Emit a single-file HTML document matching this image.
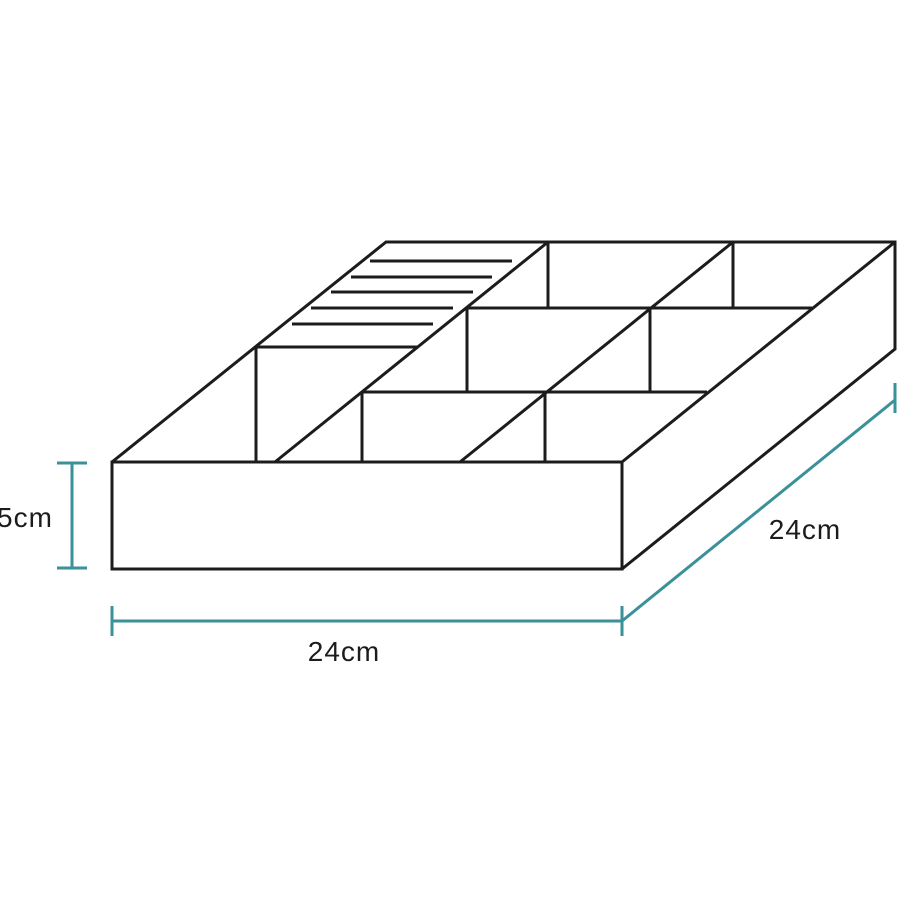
<!DOCTYPE html>
<html><head><style>body{margin:0;background:#fff}svg{display:block}</style></head><body>
<svg width="900" height="900" viewBox="0 0 900 900" xmlns="http://www.w3.org/2000/svg">
<g stroke="#1c1c1c" stroke-width="3" fill="none" stroke-linecap="butt" stroke-linejoin="miter">
<rect x="112" y="462" width="510" height="107"/>
<polyline points="112,462 386,242 895,242 895,349 622,569"/>
<line x1="622" y1="462" x2="895" y2="242"/>
<line x1="275" y1="462" x2="548" y2="242"/>
<line x1="460" y1="462" x2="733" y2="242"/>
<line x1="256" y1="347" x2="417" y2="347"/>
<line x1="256" y1="347" x2="256" y2="462"/>
<line x1="548" y1="242" x2="548" y2="308"/>
<line x1="733" y1="242" x2="733" y2="308"/>
<line x1="466" y1="308" x2="812" y2="308"/>
<line x1="467" y1="308" x2="467" y2="392"/>
<line x1="650" y1="308" x2="650" y2="392"/>
<line x1="362" y1="392" x2="707" y2="392"/>
<line x1="362" y1="392" x2="362" y2="462"/>
<line x1="545" y1="392" x2="545" y2="462"/>
<line x1="370" y1="261" x2="512" y2="261"/>
<line x1="351" y1="277" x2="492" y2="277"/>
<line x1="331" y1="292" x2="473" y2="292"/>
<line x1="311" y1="308" x2="453" y2="308"/>
<line x1="292" y1="324" x2="433" y2="324"/>
</g>
<g stroke="#3a9199" stroke-width="3" fill="none">
<line x1="72" y1="463" x2="72" y2="568"/>
<line x1="57" y1="463" x2="87" y2="463"/>
<line x1="57" y1="568" x2="87" y2="568"/>
<line x1="112" y1="621" x2="622" y2="621"/>
<line x1="112" y1="606" x2="112" y2="636"/>
<line x1="622" y1="606" x2="622" y2="636"/>
<line x1="622" y1="621" x2="895" y2="400"/>
<line x1="895" y1="383" x2="895" y2="413"/>
</g>
<g font-family="Liberation Sans, sans-serif" font-size="28" fill="#1c1c1c" letter-spacing="1">
<text x="-3" y="527">5cm</text>
<text x="344" y="661" text-anchor="middle">24cm</text>
<text x="805" y="539" text-anchor="middle">24cm</text>
</g>
</svg>
</body></html>
